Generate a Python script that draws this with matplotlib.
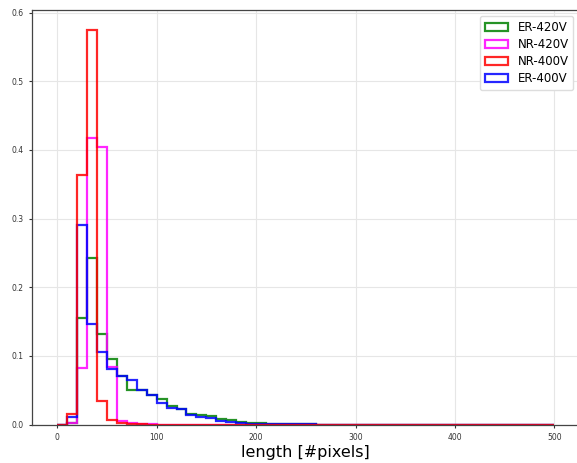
import matplotlib
matplotlib.use("Agg")
import matplotlib.pyplot as plt
import numpy as np

# bin edges: 0..500 in steps of 10
bin_edges = np.arange(0, 510, 10)

# fraction of objects per bin
er_420v = [0.0, 0.003, 0.155, 0.242, 0.132, 0.095, 0.070, 0.050, 0.051, 0.043,
           0.037, 0.027, 0.022, 0.016, 0.014, 0.012, 0.008, 0.007, 0.004, 0.002,
           0.0025, 0.001, 0.0005, 0.0005, 0.0003, 0.0002, 0.0, 0.0, 0.0, 0.0,
           0.0, 0.0, 0.0, 0.0, 0.0, 0.0, 0.0, 0.0, 0.0, 0.0,
           0.0, 0.0, 0.0, 0.0, 0.0, 0.0, 0.0, 0.0, 0.0, 0.0]
nr_420v = [0.0, 0.002, 0.083, 0.4175, 0.404, 0.084, 0.005, 0.002, 0.001, 0.0005,
           0.0, 0.0, 0.0, 0.0, 0.0, 0.0, 0.0, 0.0, 0.0, 0.0,
           0.0, 0.0, 0.0, 0.0, 0.0, 0.0, 0.0, 0.0, 0.0, 0.0,
           0.0, 0.0, 0.0, 0.0, 0.0, 0.0, 0.0, 0.0, 0.0, 0.0,
           0.0, 0.0, 0.0, 0.0, 0.0, 0.0, 0.0, 0.0, 0.0, 0.0]
nr_400v = [0.0, 0.016, 0.364, 0.575, 0.035, 0.0066, 0.003, 0.001, 0.0005, 0.0,
           0.0, 0.0, 0.0, 0.0, 0.0, 0.0, 0.0, 0.0, 0.0, 0.0,
           0.0, 0.0, 0.0, 0.0, 0.0, 0.0, 0.0, 0.0, 0.0, 0.0,
           0.0, 0.0, 0.0, 0.0, 0.0, 0.0, 0.0, 0.0, 0.0, 0.0,
           0.0, 0.0, 0.0, 0.0, 0.0, 0.0, 0.0, 0.0, 0.0, 0.0]
er_400v = [0.0, 0.011, 0.291, 0.147, 0.105, 0.081, 0.070, 0.065, 0.051, 0.043,
           0.032, 0.024, 0.022, 0.014, 0.011, 0.009, 0.005, 0.004, 0.002, 0.001,
           0.001, 0.001, 0.0005, 0.0005, 0.0005, 0.0003, 0.0, 0.0, 0.0, 0.0,
           0.0, 0.0, 0.0, 0.0, 0.0, 0.0, 0.0, 0.0, 0.0, 0.0,
           0.0, 0.0, 0.0, 0.0, 0.0, 0.0, 0.0, 0.0, 0.0, 0.0]

# drawing order (later on top); legend order is kept separately
series = [
    ("ER-420V", er_420v, "green"),
    ("NR-420V", nr_420v, "magenta"),
    ("ER-400V", er_400v, "blue"),
    ("NR-400V", nr_400v, "red"),
]
legend_order = ["ER-420V", "NR-420V", "NR-400V", "ER-400V"]

fig = plt.figure(figsize=(5.77, 4.63), dpi=100)
ax = fig.add_axes([0.056, 0.083, 0.948, 0.895])

centers = bin_edges[:-1] + 5
handles = {}
for label, vals, color in series:
    _, _, patches = ax.hist(centers, bins=bin_edges, weights=vals, histtype="step",
                            color=color, linewidth=1.6, alpha=0.85, label=label)
    handles[label] = patches[0]

ax.set_ylim(0, 0.6034)
ax.set_xlim(-25, 525)
ax.set_xticks([0, 100, 200, 300, 400, 500])
ax.set_yticks([0.0, 0.1, 0.2, 0.3, 0.4, 0.5, 0.6])
ax.tick_params(labelsize=5.5, length=2.5, width=0.8, colors="#333333")
ax.grid(True, color="#e6e6e6", linewidth=0.8)
ax.set_axisbelow(True)
for sp in ax.spines.values():
    sp.set_color("#444444")
    sp.set_linewidth(0.9)

ax.set_xlabel("length [#pixels]", fontsize=11.5, labelpad=2)
ax.legend([handles[k] for k in legend_order], legend_order,
          loc="upper right", fontsize=8.5, framealpha=1.0, edgecolor="#dddddd",
          labelspacing=0.35)

fig.savefig("out.png", dpi=100)
